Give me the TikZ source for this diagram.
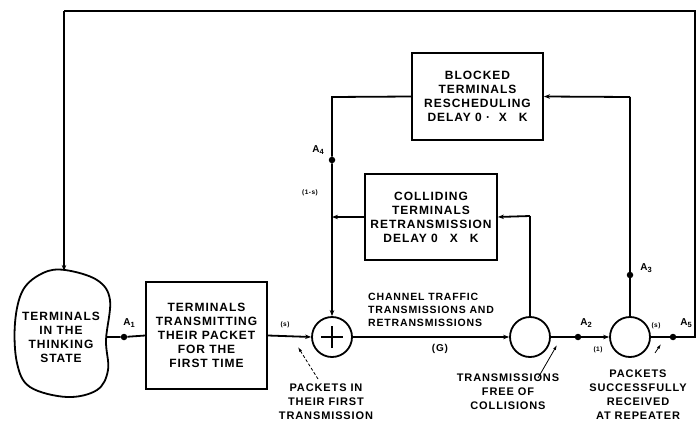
\documentclass[tikz,border=0pt]{standalone}
\usepackage{fontspec}
\newfontfamily\lblfam{Liberation Sans}[LetterSpace=8]
\newcommand\boxfnt{\lblfam\bfseries\fontsize{12}{14}\selectfont}
\newcommand\lblfnt{\lblfam\bfseries\fontsize{11}{14}\selectfont}
\newcommand\chfnt{\lblfam\bfseries\fontsize{10.5}{13}\selectfont}
\newcommand\afnt{\lblfam\bfseries\fontsize{10}{12}\selectfont}
\newcommand\tinyfnt{\lblfam\bfseries\fontsize{6.5}{8}\selectfont}
\newcommand\Asub[1]{A\raisebox{-0.45ex}{\fontsize{7.5}{8}\selectfont #1}}
\usetikzlibrary{arrows.meta}
\begin{document}
\begin{tikzpicture}[x=1pt,y=-1pt,
  ln/.style={line width=1.8pt},
  arr/.style={ln,-{Stealth[length=6pt,width=4.5pt]}},
  ptr/.style={line width=0.8pt,-{Latex[length=5pt,width=3pt]}},
  box/.style={draw,line width=1.8pt,align=center,font=\boxfnt,inner sep=0pt},
  dot/.style={circle,fill,inner sep=0pt,minimum size=6.5pt},
  junc/.style={circle,draw,line width=1.8pt,minimum size=40pt,inner sep=0pt},
  txt/.style={align=center,font=\lblfnt,inner sep=0pt},
  alab/.style={font=\afnt,inner sep=0pt},
  small/.style={font=\tinyfnt,inner sep=0pt}]
\useasboundingbox (0,0) rectangle (700,425);

% thinking-state blob
\draw[ln] plot[smooth cycle,tension=0.6] coordinates {(65,270) (97,280) (110,300) (106,340) (108,370) (97,390) (67,397) (30,387) (17,363) (15,323) (23,290) (43,273)};
\node[txt,font=\boxfnt] (think) at (61,337) {TERMINALS\\IN THE\\THINKING\\STATE};
\coordinate (thinktop) at (64,271);
\coordinate (thinkR) at (107,337);

% boxes
\node[box,minimum width=121pt,minimum height=107pt] (first) at (206.5,335.5) {TERMINALS\\TRANSMITTING\\THEIR PACKET\\FOR THE\\FIRST TIME};
\node[box,minimum width=132pt,minimum height=86pt] (coll) at (431,217) {COLLIDING\\TERMINALS\\RETRANSMISSION\\DELAY 0\quad X\quad K};
\node[box,minimum width=131pt,minimum height=87pt] (block) at (477.5,96.5) {BLOCKED\\TERMINALS\\RESCHEDULING\\DELAY 0 ·\ \ X\quad K};

% junction circles
\node[junc] (plus) at (332,337) {};
\draw[ln] ([xshift=-11pt]plus.center) -- ([xshift=11pt]plus.center);
\draw[ln] ([yshift=-11pt]plus.center) -- ([yshift=11pt]plus.center);
\node[junc] (free) at (530,337) {};
\node[junc] (succ) at (630,337) {};

% dots
\node[dot] (a1) at (124,337) {};
\node[dot] (a2) at (578,337) {};
\node[dot] (a3) at (630,275) {};
\node[dot] (a4) at (332,160) {};
\node[dot] (a5) at (673,337) {};

% corner coordinates
\coordinate (tl) at (64,11);
\coordinate (tr) at (695,11);
\coordinate (br) at (695,337);
\coordinate (jtop) at (332,97);
\coordinate (jcol) at (332,217);
\coordinate (c2up) at (530,216);
\coordinate (c3up) at (630,97);

% main flow
\draw[ln] (thinkR) -- (a1) -- (first.west);
\draw[arr] (first.east) -- (plus.west);
\draw[arr] (plus.east) -- (free.west);
\draw[ln] (free.east) -- (a2);
\draw[arr] (a2) -- (succ.west);
\draw[ln,line join=miter] (succ.east) -- (a5) -- (br) -- (tr) -- (tl);
\draw[arr] (tl) -- (thinktop);

% blocked loop
\draw[ln] (succ.north) -- (a3) -- (c3up);
\draw[arr] (c3up) -- (block.east);
\draw[ln] (block.west) -- (jtop) -- (a4) -- (jcol);
\draw[arr] (jcol) -- (plus.north);

% colliding loop
\draw[ln] (free.north) -- (c2up);
\draw[arr] (c2up) -- (coll.east);
\draw[arr] (coll.west) -- (jcol);

% labels
\node[alab] at (129,323) {\Asub{1}};
\node[alab] at (586,323) {\Asub{2}};
\node[alab] at (646,268) {\Asub{3}};
\node[alab] at (318,150) {\Asub{4}};
\node[alab] at (686,323) {\Asub{5}};
\node[small] at (285,325) {(s)};
\node[small] at (656,326) {(s)};
\node[small] at (598,350) {(1)};
\node[small] at (310,193) {(1-s)};
\node[small,font=\afnt] at (440,349) {(G)};

\node[font=\chfnt,align=left,anchor=north west,inner sep=0pt] (chan) at (368,293) {CHANNEL TRAFFIC\\TRANSMISSIONS AND\\RETRANSMISSIONS};

\node[txt] (lpk) at (326,402) {PACKETS IN\\THEIR FIRST\\TRANSMISSION};
\node[txt] (lfree) at (508,392) {TRANSMISSIONS\\FREE OF\\COLLISIONS};
\node[txt] (lsucc) at (638,395) {PACKETS\\SUCCESSFULLY\\RECEIVED\\AT REPEATER};

% pointers
\coordinate (p1s) at (318,379);
\coordinate (p1e) at (298,347);
\coordinate (p2s) at (538,378);
\coordinate (p2e) at (557,345);
\coordinate (p3s) at (655,353);
\coordinate (p3e) at (661,344);
\draw[ptr,densely dashed] (p1s) -- (p1e);
\draw[ptr] (p2s) -- (p2e);
\draw[ptr] (p3s) -- (p3e);
\end{tikzpicture}
\end{document}
